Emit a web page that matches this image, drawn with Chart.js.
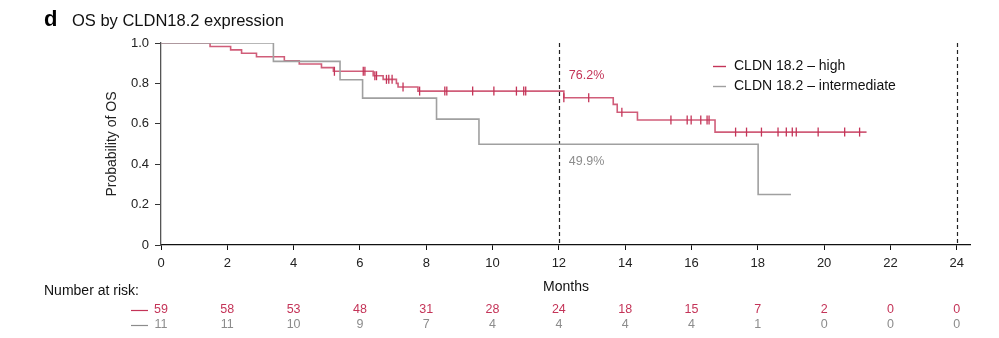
<!DOCTYPE html>
<html>
<head>
<meta charset="utf-8">
<script src="https://cdn.jsdelivr.net/npm/chart.js@4/dist/chart.umd.min.js"></script>
<style>
html,body{margin:0;padding:0;background:#fff;}
#wrap{position:relative;width:999px;height:338px;}
</style>
</head>
<body>
<div id="wrap"><canvas id="c" width="999" height="338"></canvas></div>
<script>
// ---- data ----
const highTimes = [0, 1.48, 2.10, 2.43, 2.88, 3.72, 4.17, 4.84, 5.20, 6.40, 6.70, 7.10, 7.15, 7.75, 12.15, 13.64, 13.76, 14.37, 16.71, 21.28];
const highSurv  = [1.0, 0.983, 0.966, 0.949, 0.932, 0.912, 0.896, 0.878, 0.860, 0.838, 0.820, 0.800, 0.782, 0.762, 0.729, 0.696, 0.657, 0.619, 0.559, 0.559];
const interTimes = [0, 3.39, 5.40, 6.08, 8.31, 9.59, 18.01, 19.0];
const interSurv  = [1.0, 0.909, 0.818, 0.727, 0.623, 0.499, 0.250, 0.250];
const censorTimes = [5.23, 6.10, 6.15, 6.45, 6.50, 6.80, 6.87, 6.97, 7.30, 7.80, 8.56, 8.62, 9.40, 10.04, 10.72, 10.94, 11.00, 12.15, 12.90, 13.90, 15.38, 15.87, 15.99, 16.28, 16.47, 16.53, 17.33, 17.66, 18.11, 18.61, 18.86, 19.04, 19.16, 19.82, 20.62, 21.07];
const censorSurv  = [0.860, 0.860, 0.860, 0.838, 0.838, 0.820, 0.820, 0.820, 0.782, 0.762, 0.762, 0.762, 0.762, 0.762, 0.762, 0.762, 0.762, 0.729, 0.729, 0.657, 0.619, 0.619, 0.619, 0.619, 0.619, 0.619, 0.559, 0.559, 0.559, 0.559, 0.559, 0.559, 0.559, 0.559, 0.559, 0.559];
const riskMonths = [0, 2, 4, 6, 8, 10, 12, 14, 16, 18, 20, 22, 24];
const riskHigh  = [59, 58, 53, 48, 31, 28, 24, 18, 15, 7, 2, 0, 0];
const riskInter = [11, 11, 10, 9, 7, 4, 4, 4, 4, 1, 0, 0, 0];
const seriesNames = ['CLDN 18.2 \u2013 high', 'CLDN 18.2 \u2013 intermediate'];
const landmarkMonths = [12, 24];
const landmarkLabels = ['76.2%', '49.9%'];

const PINK = 'rgb(196,52,88)';
const PINK_L = 'rgba(196,52,88,0.8)';
const GRAY = 'rgb(160,160,160)';
const GRAY_T = 'rgb(140,140,140)';
const FONT = '"Liberation Sans", Arial, sans-serif';

const toPts = (xs, ys) => xs.map((x, i) => ({x, y: ys[i]}));

const extras = {
  id: 'extras',
  beforeDatasetsDraw(chart) {
    const {ctx, chartArea, scales} = chart;
    ctx.save();
    ctx.strokeStyle = '#222';
    ctx.lineWidth = 1.2;
    ctx.setLineDash([4, 3]);
    landmarkMonths.forEach(m => {
      const x = Math.round(scales.x.getPixelForValue(m)) + 0.5;
      ctx.beginPath();
      ctx.moveTo(x, chartArea.top);
      ctx.lineTo(x, chartArea.bottom);
      ctx.stroke();
    });
    ctx.restore();
  },
  afterDraw(chart) {
    const {ctx, chartArea, scales} = chart;
    ctx.save();
    ctx.fillStyle = '#000';
    ctx.textBaseline = 'middle';
    ctx.textAlign = 'left';
    ctx.font = 'bold 22px ' + FONT;
    ctx.fillText('d', 44, 20);
    ctx.font = '16.5px ' + FONT;
    ctx.fillStyle = '#111';
    ctx.fillText('OS by CLDN18.2 expression', 72, 21);

    ctx.save();
    ctx.translate(112, (chartArea.top + chartArea.bottom) / 2);
    ctx.rotate(-Math.PI / 2);
    ctx.textAlign = 'center';
    ctx.font = '14px ' + FONT;
    ctx.fillStyle = '#222';
    ctx.fillText('Probability of OS', 0, 0);
    ctx.restore();

    ctx.textAlign = 'center';
    ctx.font = '14px ' + FONT;
    ctx.fillStyle = '#111';
    ctx.fillText('Months', 566, 287);

    ctx.textAlign = 'left';
    ctx.font = '12.5px ' + FONT;
    ctx.fillStyle = PINK;
    ctx.fillText(landmarkLabels[0], scales.x.getPixelForValue(12.3), 76);
    ctx.fillStyle = GRAY_T;
    ctx.fillText(landmarkLabels[1], scales.x.getPixelForValue(12.3), 162);

    ctx.font = '14px ' + FONT;
    [PINK, GRAY].forEach((col, i) => {
      const y = 66 + i * 20;
      ctx.strokeStyle = col;
      ctx.lineWidth = 1.4;
      ctx.beginPath();
      ctx.moveTo(713, y + 0.5);
      ctx.lineTo(726, y + 0.5);
      ctx.stroke();
      ctx.fillStyle = '#111';
      ctx.fillText(seriesNames[i], 734, y);
    });

    ctx.fillStyle = '#111';
    ctx.font = '14px ' + FONT;
    ctx.fillText('Number at risk:', 44, 291);
    ctx.font = '12.5px ' + FONT;
    [[riskHigh, PINK, 310], [riskInter, GRAY_T, 325]].forEach(([row, col, y]) => {
      ctx.strokeStyle = col;
      ctx.lineWidth = 1.2;
      ctx.beginPath();
      ctx.moveTo(131, y + 0.5);
      ctx.lineTo(148, y + 0.5);
      ctx.stroke();
      ctx.fillStyle = col;
      ctx.textAlign = 'center';
      row.forEach((v, i) => {
        ctx.fillText(String(v), scales.x.getPixelForValue(riskMonths[i]), y);
      });
      ctx.textAlign = 'left';
    });
    ctx.restore();
  }
};

new Chart(document.getElementById('c'), {
  type: 'scatter',
  data: {
    datasets: [
      {
        label: seriesNames[1],
        data: toPts(interTimes, interSurv),
        showLine: true, stepped: 'before',
        borderColor: GRAY, borderWidth: 1.6,
        pointRadius: 0, fill: false
      },
      {
        label: seriesNames[0],
        data: toPts(highTimes, highSurv),
        showLine: true, stepped: 'before',
        borderColor: PINK_L, borderWidth: 1.6,
        pointRadius: 0, fill: false
      },
      {
        label: 'censored',
        data: toPts(censorTimes, censorSurv),
        showLine: false,
        pointStyle: 'line', rotation: 90,
        pointRadius: 4.5, borderWidth: 1.3,
        borderColor: PINK, backgroundColor: PINK
      }
    ]
  },
  options: {
    responsive: false,
    animation: false,
    devicePixelRatio: 1,
    layout: {padding: {left: 0, top: 43, right: 29, bottom: 0}},
    plugins: {legend: {display: false}, tooltip: {enabled: false}, title: {display: false}},
    scales: {
      x: {
        type: 'linear', min: 0, max: 24.4,
        afterFit: s => { s.height = 93; },
        ticks: {stepSize: 2, includeBounds: false, font: {size: 13, family: FONT}, color: '#222', padding: 6, maxRotation: 0,
                callback: v => String(v)},
        grid: {drawOnChartArea: false, tickLength: 5, color: '#111', lineWidth: 1},
        border: {color: '#111', width: 1.3}
      },
      y: {
        min: 0, max: 1,
        afterFit: s => { s.width = 161; },
        ticks: {stepSize: 0.2, font: {size: 13, family: FONT}, color: '#222', padding: 6,
                callback: v => (Math.abs(v) < 1e-9 ? '0' : Number(v).toFixed(1))},
        grid: {drawOnChartArea: false, tickLength: 6, color: '#333', lineWidth: 1},
        border: {color: '#555', width: 1.3}
      }
    }
  },
  plugins: [extras]
});
</script>
</body>
</html>
